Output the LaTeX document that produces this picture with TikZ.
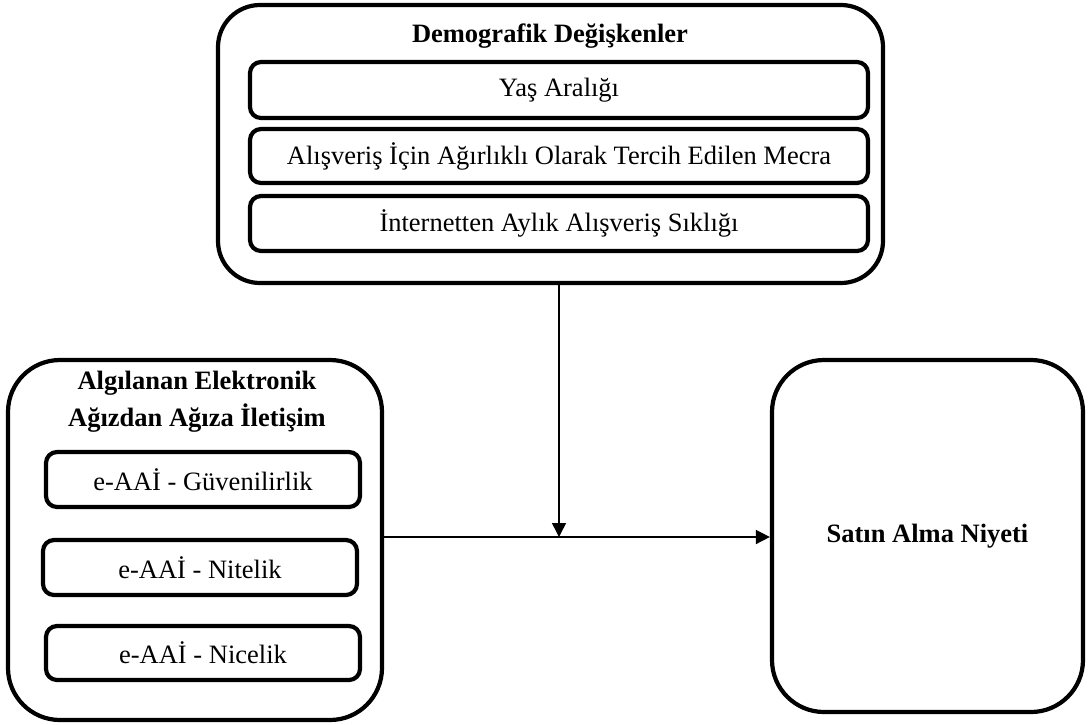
\documentclass[tikz,border=0pt]{standalone}
\usepackage{fontspec}
\setmainfont{Liberation Serif}
\usetikzlibrary{arrows.meta}
\begin{document}
\begin{tikzpicture}[x=1pt,y=-1pt,
  outerbox/.style={draw=black,line width=4.2pt,rounded corners=42pt,inner sep=0pt},
  innerbox/.style={draw=black,line width=4.2pt,rounded corners=11pt,inner sep=0pt},
  lbl/.style={font=\fontsize{26.5}{31}\selectfont},
  title/.style={font=\fontsize{26.5}{37}\selectfont\bfseries,align=center},
  conn/.style={line width=1.5pt,-{Triangle[length=14pt,width=14pt]}}]
\useasboundingbox (0,0) rectangle (1090,724);
% top group
\node[outerbox,minimum width=665pt,minimum height=278pt] (demo) at (550.5,144) {};
\node[title] (demot) at (550,36) {Demografik Değişkenler};
\node[innerbox,minimum width=618pt,minimum height=56pt,lbl] (yas) at (559,90) {Yaş Aralığı};
\node[innerbox,minimum width=618pt,minimum height=54pt,lbl] (mecra) at (559,156) {Alışveriş İçin Ağırlıklı Olarak Tercih Edilen Mecra};
\node[innerbox,minimum width=618pt,minimum height=55pt,lbl] (siklik) at (559,223.5) {İnternetten Aylık Alışveriş Sıklığı};
% left group
\node[outerbox,rounded corners=52pt,minimum width=374pt,minimum height=360pt] (eaai) at (195,540) {};
\node[title] (eaait) at (197,402) {Algılanan Elektronik\\Ağızdan Ağıza İletişim};
\node[innerbox,minimum width=314pt,minimum height=55pt,lbl] (guven) at (203,479.5) {e-AAİ - Güvenilirlik};
\node[innerbox,minimum width=314pt,minimum height=55pt,lbl] (nitel) at (200,567.5) {e-AAİ - Nitelik};
\node[innerbox,minimum width=314pt,minimum height=54pt,lbl] (nicel) at (203,653) {e-AAİ - Nicelik};
% right
\node[outerbox,rounded corners=52pt,minimum width=311pt,minimum height=352pt,title] (niyet) at (927.5,536) {Satın Alma Niyeti};
% connectors
\coordinate (junc) at (559,537);
\draw[conn] (demo.south -| junc) -- (junc);
\draw[conn] (eaai.east |- junc) -- (niyet.west |- junc);
\end{tikzpicture}
\end{document}
